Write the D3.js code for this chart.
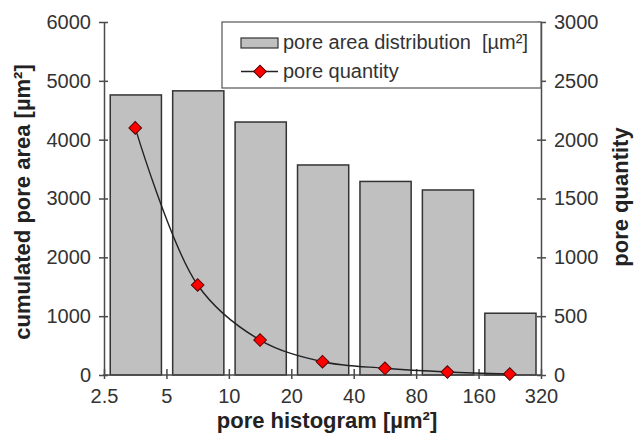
<!DOCTYPE html>
<html><head><meta charset="utf-8">
<script src="https://cdn.jsdelivr.net/npm/d3@7/dist/d3.min.js"></script>
<style>html,body{margin:0;padding:0;background:#fff;}svg{display:block;}</style>
</head><body>
<svg id="c" width="634" height="438"></svg>
<script>
// Data
const binEdges = [2.5, 5, 10, 20, 40, 80, 160, 320];
const xTickLabels = ["2.5", "5", "10", "20", "40", "80", "160", "320"];
const poreArea = [4760, 4830, 4300, 3570, 3290, 3145, 1050];
const poreQuantity = [2100, 765, 297, 113, 57, 25, 8];
const leftTicks = [0, 1000, 2000, 3000, 4000, 5000, 6000];
const rightTicks = [0, 500, 1000, 1500, 2000, 2500, 3000];

const font = "'Liberation Sans', Arial, sans-serif";
const axisColor = "#4a4a4a";
const L = 104, R = 541, T = 22, B = 375;

const svg = d3.select("#c");
const x = d3.scaleLog().base(2).domain([2.5, 320]).range([L, R]);
const yL = d3.scaleLinear().domain([0, 6000]).range([B, T]);
const yR = d3.scaleLinear().domain([0, 3000]).range([B, T]);

const bins = poreArea.map((v, i) => ({lo: binEdges[i], hi: binEdges[i + 1], area: v, qty: poreQuantity[i]}));

// Bars
svg.append("g").selectAll("rect").data(bins).join("rect")
  .attr("x", d => { const w = x(d.hi) - x(d.lo); return x(d.lo) + w * 0.1; })
  .attr("width", d => (x(d.hi) - x(d.lo)) * 0.82)
  .attr("y", d => yL(d.area))
  .attr("height", d => B - yL(d.area))
  .attr("fill", "#c0c0c0")
  .attr("stroke", "#333")
  .attr("stroke-width", 1.5);

// Axes
function styleAxis(g) {
  g.selectAll("path.domain").attr("stroke", axisColor).attr("stroke-width", 1.5);
  g.selectAll(".tick line").attr("stroke", axisColor).attr("stroke-width", 1.5);
  g.selectAll(".tick text").attr("fill", "#333").style("font-family", font).style("font-size", "20px");
}
const gL = svg.append("g").attr("transform", `translate(${L},0)`)
  .call(d3.axisLeft(yL).tickValues(leftTicks).tickFormat(d3.format("d")).tickSizeOuter(0).tickSizeInner(5).tickPadding(8));
styleAxis(gL);
gL.selectAll(".tick line").attr("x2", -5).attr("x1", 4);

const gR = svg.append("g").attr("transform", `translate(${R},0)`)
  .call(d3.axisRight(yR).tickValues(rightTicks).tickFormat(d3.format("d")).tickSizeOuter(0).tickSizeInner(5).tickPadding(8));
styleAxis(gR);
gR.selectAll(".tick line").attr("x2", 5).attr("x1", -4);

const gB = svg.append("g").attr("transform", `translate(0,${B})`)
  .call(d3.axisBottom(x).tickValues(binEdges).tickFormat((d, i) => xTickLabels[i]).tickSizeOuter(0).tickSizeInner(4).tickPadding(10));
styleAxis(gB);
gB.selectAll(".tick line").attr("y1", -6).attr("y2", 4);
gB.select("path.domain").attr("d", `M${L - 1},0H${R + 1}`);

// Line + markers
const pts = bins.map(d => ({x: x(Math.sqrt(d.lo * d.hi)), y: yR(d.qty)}));
svg.append("path").datum(pts)
  .attr("d", d3.line().x(d => d.x).y(d => d.y).curve(d3.curveCatmullRom.alpha(0.5)))
  .attr("fill", "none").attr("stroke", "#222").attr("stroke-width", 1.4);
const diamond = d3.symbol().type(d3.symbolSquare).size(80);
svg.append("g").selectAll("path").data(pts).join("path")
  .attr("d", diamond())
  .attr("transform", d => `translate(${d.x},${d.y}) rotate(45)`)
  .attr("fill", "#ff0000").attr("stroke", "#5a0000").attr("stroke-width", 1);

// Legend
const lg = svg.append("g");
lg.append("rect").attr("x", 222).attr("y", 22).attr("width", R - 222).attr("height", 66)
  .attr("fill", "#fff").attr("stroke", "#555").attr("stroke-width", 1.2);
lg.append("rect").attr("x", 241).attr("y", 38).attr("width", 37).attr("height", 10)
  .attr("fill", "#c0c0c0").attr("stroke", "#333").attr("stroke-width", 1.2);
lg.append("text").attr("x", 283).attr("y", 48.5).text("pore area distribution  [µm²]")
  .attr("xml:space", "preserve").style("white-space", "pre")
  .style("font-family", font).style("font-size", "20px").attr("fill", "#333");
lg.append("line").attr("x1", 241).attr("x2", 278).attr("y1", 71.5).attr("y2", 71.5)
  .attr("stroke", "#222").attr("stroke-width", 1.4);
lg.append("path").attr("d", diamond()).attr("transform", "translate(260,71.5) rotate(45)")
  .attr("fill", "#ff0000").attr("stroke", "#5a0000").attr("stroke-width", 1);
lg.append("text").attr("x", 283).attr("y", 78).text("pore quantity")
  .style("font-family", font).style("font-size", "20px").attr("fill", "#333");

// Axis titles
svg.append("text").attr("x", 327).attr("y", 428).attr("text-anchor", "middle")
  .text("pore histogram [µm²]").style("font-family", font).style("font-size", "22px")
  .style("font-weight", "bold").attr("fill", "#222");
svg.append("text").attr("transform", "translate(30,202) rotate(-90)").attr("text-anchor", "middle")
  .text("cumulated pore area [µm²]").style("font-family", font).style("font-size", "22px")
  .style("font-weight", "bold").attr("fill", "#222");
svg.append("text").attr("transform", "translate(628,197) rotate(-90)").attr("text-anchor", "middle")
  .text("pore quantity").style("font-family", font).style("font-size", "22px")
  .style("font-weight", "bold").attr("fill", "#222");
</script>
</body></html>
